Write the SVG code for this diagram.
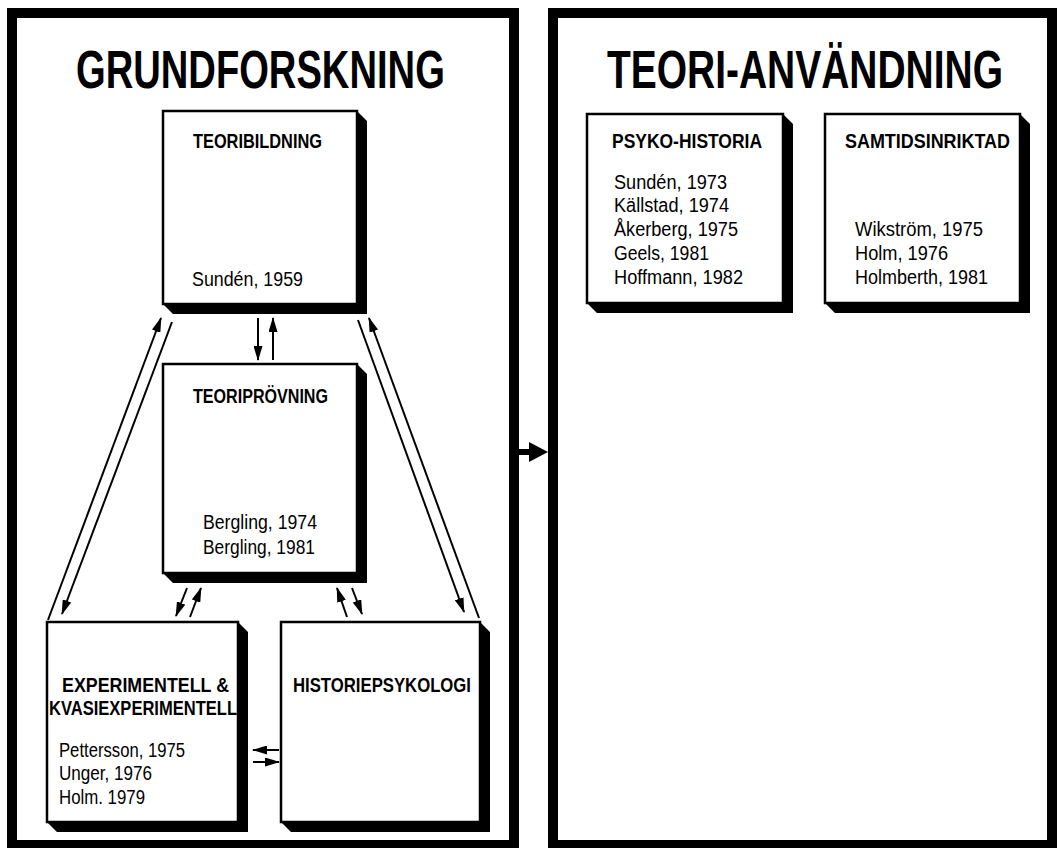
<svg xmlns="http://www.w3.org/2000/svg" width="1057" height="848" viewBox="0 0 1057 848">
<style>
.panel{fill:#fff;stroke:#000;stroke-width:10}
.box{fill:#fff;stroke:#000;stroke-width:2.5}
.sh{fill:#000}
.h1{font-family:"Liberation Sans",Arial,sans-serif;font-weight:bold;font-size:53px;fill:#000}
.h2{font-family:"Liberation Sans",Arial,sans-serif;font-weight:bold;font-size:20.5px;fill:#000}
.rf{font-family:"Liberation Sans",Arial,sans-serif;font-size:20px;fill:#000}
.ln{fill:none;stroke:#000;stroke-width:2}
</style>
<defs>
<marker id="ah" markerUnits="userSpaceOnUse" markerWidth="15" markerHeight="9" refX="14" refY="4.5" orient="auto">
<path d="M0,0 L15,4.5 L0,9 z" fill="#000"/>
</marker>
</defs>
<rect width="1057" height="848" fill="#fff"/>
<g id="panel-grundforskning">
<rect class="panel" x="12" y="13" width="502" height="832"/>
<text class="h1" transform="translate(76,88) scale(0.72,1)">GRUNDFORSKNING</text>
</g>
<g id="panel-teori-anvandning">
<rect class="panel" x="553" y="13" width="499" height="832"/>
<text class="h1" transform="translate(607,88) scale(0.735,1)">TEORI-ANVÄNDNING</text>
</g>
<g id="node-teoribildning">
<polygon class="sh" points="357,111 367,121 367,314 173,314 163,304 357,304"/>
<rect class="box" x="163" y="111" width="194" height="193"/>
<text class="h2" x="193" y="148" textLength="129" lengthAdjust="spacingAndGlyphs">TEORIBILDNING</text>
<text class="rf" x="192" y="286" textLength="111" lengthAdjust="spacingAndGlyphs">Sundén, 1959</text>
</g>
<g id="node-teoriprovning">
<polygon class="sh" points="357,364 367,374 367,583 173,583 163,573 357,573"/>
<rect class="box" x="163" y="364" width="194" height="209"/>
<text class="h2" x="193" y="403" textLength="135" lengthAdjust="spacingAndGlyphs">TEORIPRÖVNING</text>
<text class="rf" x="203" y="529" textLength="114" lengthAdjust="spacingAndGlyphs">Bergling, 1974</text>
<text class="rf" x="203" y="554" textLength="112" lengthAdjust="spacingAndGlyphs">Bergling, 1981</text>
</g>
<g id="node-experimentell">
<polygon class="sh" points="238,622 248,632 248,832 57,832 47,822 238,822"/>
<rect class="box" x="47" y="622" width="191" height="200"/>
<text class="h2" x="62" y="692" textLength="167" lengthAdjust="spacingAndGlyphs">EXPERIMENTELL &amp;</text>
<text class="h2" x="49" y="715" textLength="188" lengthAdjust="spacingAndGlyphs">KVASIEXPERIMENTELL</text>
<text class="rf" x="59" y="757" textLength="126" lengthAdjust="spacingAndGlyphs">Pettersson, 1975</text>
<text class="rf" x="59" y="780" textLength="93" lengthAdjust="spacingAndGlyphs">Unger, 1976</text>
<text class="rf" x="59" y="804" textLength="86" lengthAdjust="spacingAndGlyphs">Holm. 1979</text>
</g>
<g id="node-historiepsykologi">
<polygon class="sh" points="480,622 490,632 490,832 291,832 281,822 480,822"/>
<rect class="box" x="281" y="622" width="199" height="200"/>
<text class="h2" x="293" y="692" textLength="178" lengthAdjust="spacingAndGlyphs">HISTORIEPSYKOLOGI</text>
</g>
<g id="node-psyko-historia">
<polygon class="sh" points="783,114 793,124 793,313 597,313 587,303 783,303"/>
<rect class="box" x="587" y="114" width="196" height="189"/>
<text class="h2" x="612" y="148" textLength="150" lengthAdjust="spacingAndGlyphs">PSYKO-HISTORIA</text>
<text class="rf" x="614" y="189" textLength="113" lengthAdjust="spacingAndGlyphs">Sundén, 1973</text>
<text class="rf" x="614" y="212" textLength="115" lengthAdjust="spacingAndGlyphs">Källstad, 1974</text>
<text class="rf" x="614" y="236" textLength="124" lengthAdjust="spacingAndGlyphs">Åkerberg, 1975</text>
<text class="rf" x="614" y="260" textLength="95" lengthAdjust="spacingAndGlyphs">Geels, 1981</text>
<text class="rf" x="614" y="284" textLength="129" lengthAdjust="spacingAndGlyphs">Hoffmann, 1982</text>
</g>
<g id="node-samtidsinriktad">
<polygon class="sh" points="1020,114 1030,124 1030,313 835,313 825,303 1020,303"/>
<rect class="box" x="825" y="114" width="195" height="189"/>
<text class="h2" x="845" y="148" textLength="165" lengthAdjust="spacingAndGlyphs">SAMTIDSINRIKTAD</text>
<text class="rf" x="855" y="236" textLength="128" lengthAdjust="spacingAndGlyphs">Wikström, 1975</text>
<text class="rf" x="855" y="260" textLength="93" lengthAdjust="spacingAndGlyphs">Holm, 1976</text>
<text class="rf" x="855" y="284" textLength="133" lengthAdjust="spacingAndGlyphs">Holmberth, 1981</text>
</g>
<g id="connectors">
<line class="ln" x1="48" y1="620" x2="161" y2="318" marker-end="url(#ah)"/>
<line class="ln" x1="172" y1="322" x2="62" y2="614" marker-end="url(#ah)"/>
<line class="ln" x1="358" y1="320" x2="464" y2="612" marker-end="url(#ah)"/>
<line class="ln" x1="479" y1="618" x2="369" y2="318" marker-end="url(#ah)"/>
<line class="ln" x1="258" y1="318" x2="258" y2="360" marker-end="url(#ah)"/>
<line class="ln" x1="273" y1="360" x2="273" y2="318" marker-end="url(#ah)"/>
<line class="ln" x1="187" y1="588" x2="176" y2="616" marker-end="url(#ah)"/>
<line class="ln" x1="190" y1="617" x2="201" y2="588" marker-end="url(#ah)"/>
<line class="ln" x1="347" y1="617" x2="337" y2="588" marker-end="url(#ah)"/>
<line class="ln" x1="352" y1="588" x2="362" y2="614" marker-end="url(#ah)"/>
<line class="ln" x1="279" y1="750" x2="253" y2="750" marker-end="url(#ah)"/>
<line class="ln" x1="253" y1="762" x2="279" y2="762" marker-end="url(#ah)"/>
<rect x="518" y="449" width="14" height="6" fill="#000"/>
<polygon points="529,442 548,452 529,462" fill="#000"/>
</g>
</svg>
